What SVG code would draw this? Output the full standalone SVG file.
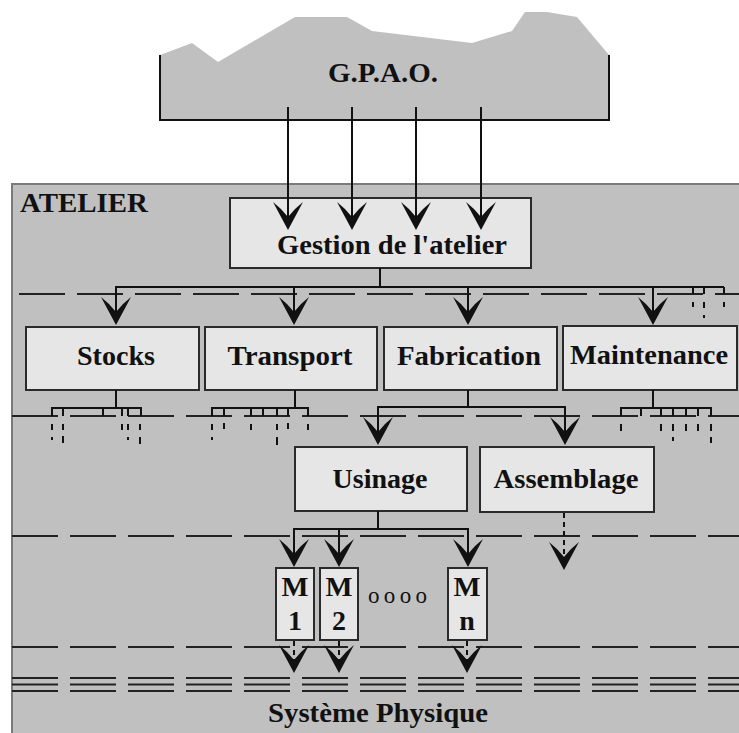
<svg xmlns="http://www.w3.org/2000/svg" width="739" height="733" viewBox="0 0 739 733">
<defs>
<style>
.box{fill:#e6e6e6;stroke:#2a2a2a;stroke-width:2}
.t{font-family:"Liberation Serif","Times New Roman",Times,serif;font-weight:bold;font-size:28px;fill:#111}
.ln{stroke:#111;stroke-width:2;fill:none}
.dl{stroke:#222;stroke-width:2;stroke-dasharray:46 12;fill:none}
.ds{stroke:#111;stroke-width:2;stroke-dasharray:5 4;fill:none}
.tk{stroke:#111;stroke-width:2;fill:none}
</style>
<path id="ah" d="M0,0 L-15,-28 Q-6,-21 0,-13 Q6,-21 15,-28 Z" fill="#111"/>
</defs>
<rect width="739" height="733" fill="#fff"/>

<g id="gpao">
<polygon points="160,55 192,43 218,62 295,17 347,17 372,31 472,43 512,31 525,12 547,12 577,17 609,55 609,120 160,120" fill="#c0c0c0"/>
<polyline points="160,55 160,120 609,120 609,55" class="ln"/>
<text x="383" y="82" text-anchor="middle" textLength="110" lengthAdjust="spacingAndGlyphs" class="t">G.P.A.O.</text>
</g>

<g id="atelier">
<rect x="12" y="184" width="740" height="560" fill="#c0c0c0" stroke="#7a7a7a" stroke-width="2"/>
<text x="20" y="212" textLength="128" lengthAdjust="spacingAndGlyphs" class="t">ATELIER</text>
</g>

<g id="levels">
<line x1="19" y1="294" x2="739" y2="294" class="dl"/>
<line x1="12" y1="416" x2="739" y2="416" class="dl"/>
<line x1="12" y1="536" x2="739" y2="536" class="dl"/>
<line x1="12" y1="647" x2="739" y2="647" class="dl"/>
<line x1="12" y1="678" x2="739" y2="678" class="dl"/>
<line x1="12" y1="684.5" x2="739" y2="684.5" class="dl"/>
<line x1="12" y1="691" x2="739" y2="691" class="dl"/>
</g>

<g id="gestion">
<rect x="230" y="198" width="301" height="70" class="box"/>
<text x="392" y="254" text-anchor="middle" textLength="230" lengthAdjust="spacingAndGlyphs" class="t">Gestion de l'atelier</text>
</g>
<g id="stocks">
<rect x="26" y="327" width="173" height="63" class="box"/>
<text x="116" y="365" text-anchor="middle" textLength="78" lengthAdjust="spacingAndGlyphs" class="t">Stocks</text>
</g>
<g id="transport">
<rect x="205" y="327" width="172" height="63" class="box"/>
<text x="290" y="365" text-anchor="middle" textLength="125" lengthAdjust="spacingAndGlyphs" class="t">Transport</text>
</g>
<g id="fabrication">
<rect x="384" y="327" width="173" height="63" class="box"/>
<text x="469" y="365" text-anchor="middle" textLength="144" lengthAdjust="spacingAndGlyphs" class="t">Fabrication</text>
</g>
<g id="maintenance">
<rect x="563" y="326" width="174" height="64" class="box"/>
<text x="649" y="364" text-anchor="middle" textLength="158" lengthAdjust="spacingAndGlyphs" class="t">Maintenance</text>
</g>
<g id="usinage">
<rect x="295" y="447" width="172" height="64" class="box"/>
<text x="380" y="488" text-anchor="middle" textLength="95" lengthAdjust="spacingAndGlyphs" class="t">Usinage</text>
</g>
<g id="assemblage">
<rect x="480" y="447" width="174" height="65" class="box"/>
<text x="566" y="488" text-anchor="middle" textLength="145" lengthAdjust="spacingAndGlyphs" class="t">Assemblage</text>
</g>
<g id="m1">
<rect x="276" y="568" width="38" height="72" class="box"/>
<text x="295" y="596" text-anchor="middle" textLength="27" lengthAdjust="spacingAndGlyphs" class="t">M</text>
<text x="295" y="630" text-anchor="middle" class="t">1</text>
</g>
<g id="m2">
<rect x="320" y="568" width="38" height="72" class="box"/>
<text x="339" y="596" text-anchor="middle" textLength="27" lengthAdjust="spacingAndGlyphs" class="t">M</text>
<text x="339" y="630" text-anchor="middle" class="t">2</text>
</g>
<g id="dots">
<text x="368" y="603" textLength="59" lengthAdjust="spacing" class="t" style="font-size:23px;font-weight:normal">oooo</text>
</g>
<g id="mn">
<rect x="448" y="568" width="39" height="72" class="box"/>
<text x="467" y="596" text-anchor="middle" textLength="27" lengthAdjust="spacingAndGlyphs" class="t">M</text>
<text x="467" y="630" text-anchor="middle" class="t">n</text>
</g>
<g id="systeme">
<text x="378" y="722" text-anchor="middle" textLength="220" lengthAdjust="spacingAndGlyphs" class="t">Système Physique</text>
</g>

<g id="connectors">
<path class="ln" d="M288,107 V222 M352,107 V222 M416,107 V222 M481,107 V222"/>
<use href="#ah" x="288" y="230"/>
<use href="#ah" x="352" y="230"/>
<use href="#ah" x="416" y="230"/>
<use href="#ah" x="481" y="230"/>

<path class="ln" d="M380,268 V287 M116,318 V287 H724 M294,287 V318 M468,287 V318 M653,287 V318 M693,287 V294 M704,287 V294 M724,287 V294"/>
<use href="#ah" x="116" y="325"/>
<use href="#ah" x="294" y="325"/>
<use href="#ah" x="468" y="325"/>
<use href="#ah" x="653" y="325"/>

<path class="ln" d="M116,390 V408 M52,416 V408 H141 V416 M63,408 V416 M103,408 V416 M122,408 V416 M128,408 V416"/>
<path class="ln" d="M295,390 V408 M212,416 V408 H308 V416 M224,408 V416 M251,408 V416 M263,408 V416 M277,408 V416 M288,408 V416"/>
<path class="ln" d="M653,390 V408 M621,416 V408 H711 V416 M641,408 V416 M661,408 V416 M673,408 V416 M686,408 V416 M698,408 V416"/>

<path class="ln" d="M468,390 V407 M378,438 V407 H565 V438"/>
<use href="#ah" x="378" y="445"/>
<use href="#ah" x="565" y="445"/>

<path class="ln" d="M378,511 V529 M294,560 V529 H468 V560 M339,529 V560"/>
<use href="#ah" x="294" y="567"/>
<use href="#ah" x="339" y="567"/>
<use href="#ah" x="468" y="567"/>

<path class="ds" d="M564,513 V563"/>
<use href="#ah" x="564" y="570"/>

<path class="ds" d="M294,641 V666 M339,641 V666 M467,641 V666"/>
<use href="#ah" x="294" y="673"/>
<use href="#ah" x="339" y="673"/>
<use href="#ah" x="467" y="673"/>

<path class="tk" d="M693,302 V307 M704,302 V308 M704,315 V318 M724,302 V307"/>
<path class="tk" d="M52,424 V430 M52,437 V440 M63,424 V430 M63,436 V443 M122,424 V430 M128,424 V430 M128,437 V440 M140,424 V430 M140,437 V444"/>
<path class="tk" d="M212,424 V430 M212,437 V440 M224,423 V429 M251,424 V430 M277,424 V430 M277,437 V445 M288,423 V429 M308,424 V430"/>
<path class="tk" d="M621,424 V431 M661,424 V431 M673,424 V431 M673,437 V441 M686,424 V431 M698,424 V431 M711,424 V431 M711,437 V443"/>
</g>
</svg>
